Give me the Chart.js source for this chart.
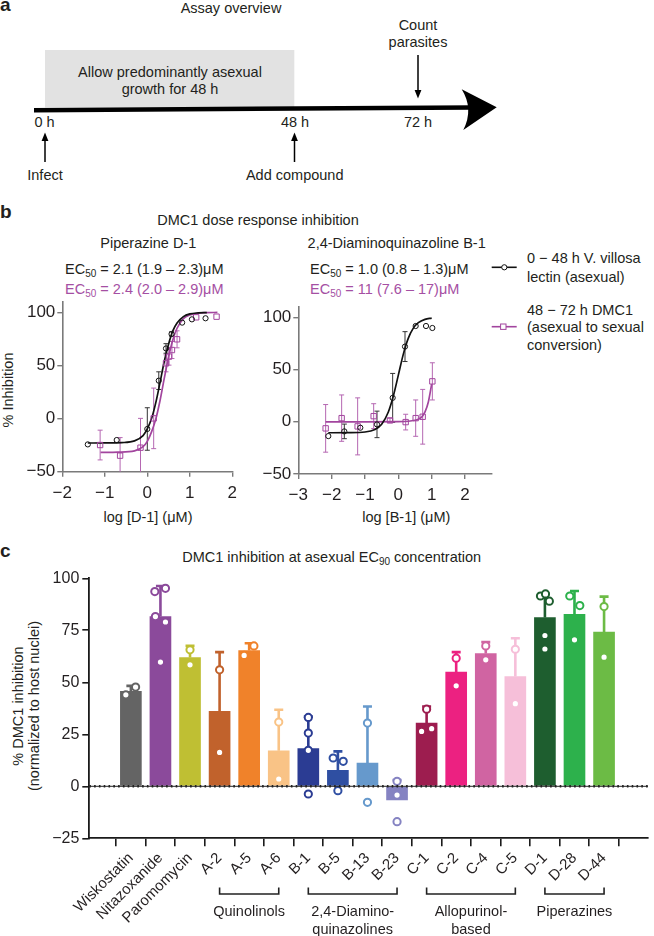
<!DOCTYPE html>
<html><head><meta charset="utf-8">
<script src="https://cdn.jsdelivr.net/npm/chart.js@4.4.1/dist/chart.umd.min.js"></script>
<style>
html,body{margin:0;padding:0;background:#fff}
body{position:relative;width:654px;height:936px;overflow:hidden;font-family:"Liberation Sans",Arial,Helvetica,sans-serif;color:#231f20}
.t{position:absolute;white-space:nowrap;line-height:1;font-size:14.5px}
.c{transform:translate(-50%,-50%)}
.l{transform:translate(0,-50%)}
.r90{transform:translate(-50%,-50%) rotate(-90deg)}
.lab{font-weight:bold;font-size:19px}
.mag{color:#a54fa3}
sub{font-size:10px;vertical-align:-3px;line-height:0}
canvas,svg{position:absolute}
</style></head><body>

<!-- Panel a : timeline diagram -->
<svg style="left:0;top:0" width="654" height="190">
  <rect x="45" y="50" width="249.3" height="57.5" fill="#e2e2e2"/>
  <line x1="34" y1="110.3" x2="472" y2="107.4" stroke="#000" stroke-width="4.5"/>
  <path d="M461.7 89.3 L496.7 107.3 L463.3 130 Q474 109 461.7 89.3 Z" fill="#000"/>
  <line x1="45" y1="162" x2="45" y2="139" stroke="#000" stroke-width="1.5"/>
  <path d="M45 132.5 L41.6 141 L48.4 141 Z" fill="#000"/>
  <line x1="294.5" y1="162" x2="294.5" y2="139" stroke="#000" stroke-width="1.5"/>
  <path d="M294.5 132.5 L291.1 141 L297.9 141 Z" fill="#000"/>
  <line x1="418" y1="55" x2="418" y2="92" stroke="#000" stroke-width="1.5"/>
  <path d="M418 98.5 L414.6 90 L421.4 90 Z" fill="#000"/>
</svg>
<div class="t lab l" style="left:0;top:4px">a</div>
<div class="t c" style="left:231px;top:8px">Assay overview</div>
<div class="t c" style="left:418px;top:25px">Count</div>
<div class="t c" style="left:418px;top:42px">parasites</div>
<div class="t c" style="left:170px;top:71.5px">Allow predominantly asexual</div>
<div class="t c" style="left:170px;top:89px">growth for 48 h</div>
<div class="t c" style="left:44.5px;top:122px">0 h</div>
<div class="t c" style="left:295px;top:122px">48 h</div>
<div class="t c" style="left:418px;top:122px">72 h</div>
<div class="t c" style="left:45px;top:175px">Infect</div>
<div class="t c" style="left:294.7px;top:175px">Add compound</div>

<!-- Panel b texts -->
<div class="t lab l" style="left:0;top:211px">b</div>
<div class="t c" style="left:258px;top:220px">DMC1 dose response inhibition</div>
<div class="t c" style="left:148.3px;top:242.5px">Piperazine D-1</div>
<div class="t c" style="left:396.7px;top:242.5px">2,4-Diaminoquinazoline B-1</div>
<div class="t l" style="left:65px;top:268.7px">EC<sub>50</sub> = 2.1 (1.9 – 2.3)μM</div>
<div class="t l mag" style="left:65px;top:288.7px">EC<sub>50</sub> = 2.4 (2.0 – 2.9)μM</div>
<div class="t l" style="left:310px;top:268.7px">EC<sub>50</sub> = 1.0 (0.8 – 1.3)μM</div>
<div class="t l mag" style="left:310px;top:288.7px">EC<sub>50</sub> = 11 (7.6 – 17)μM</div>
<div class="t r90" style="left:8.3px;top:390px">% Inhibition</div>
<div class="t c" style="left:148px;top:516.5px">log [D-1] (μM)</div>
<div class="t c" style="left:406.3px;top:516.5px">log [B-1] (μM)</div>

<svg style="left:488px;top:255px" width="34" height="80">
  <line x1="3.7" y1="12.3" x2="28.7" y2="12.3" stroke="#111" stroke-width="1.6"/>
  <circle cx="16.3" cy="12.3" r="2.6" fill="#fff" stroke="#111" stroke-width="1"/>
  <line x1="3.7" y1="71.7" x2="28.7" y2="71.7" stroke="#a2459e" stroke-width="1.6"/>
  <rect x="12.6" y="69" width="5.4" height="5.4" fill="#fff" stroke="#a2459e" stroke-width="1"/>
</svg>
<div class="t l" style="left:527px;top:258.3px">0 − 48 h V. villosa</div>
<div class="t l" style="left:527px;top:276.5px">lectin (asexual)</div>
<div class="t l" style="left:527px;top:309.5px">48 − 72 h DMC1</div>
<div class="t l" style="left:527px;top:327.3px">(asexual to sexual</div>
<div class="t l" style="left:527px;top:345.3px">conversion)</div>

<canvas id="cLeft" width="250" height="240" style="left:0;top:290px"></canvas>
<canvas id="cRight" width="250" height="240" style="left:250px;top:290px"></canvas>

<!-- Panel c texts -->
<div class="t lab l" style="left:0;top:550px">c</div>
<div class="t c" style="left:331.7px;top:556.7px">DMC1 inhibition at asexual EC<sub>90</sub> concentration</div>
<div class="t r90" style="left:18px;top:706px">% DMC1 inhibition</div>
<div class="t r90" style="left:34px;top:706px">(normalized to host nuclei)</div>
<canvas id="cBars" width="654" height="396" style="left:0;top:540px"></canvas>
<div id="groupText"></div>

<script>
// ---------------- Panel b data ----------------
// Piperazine D-1
const lvD1LogConc = [-1.40, -0.72, 0.00, 0.27, 0.44, 0.57, 0.82, 1.05, 1.37];
const lvD1Inhib   = [-24.3, -20.2, -9.8, 35.7, 66.0, 79.6, 90.3, 93.4, 94.4];
const lvD1Err     = [0, 0, 20, 8.3, 4.5, 2, 0, 0, 0];
const dmcD1LogConc = [-1.11, -0.64, -0.16, 0.15, 0.44, 0.51, 0.58, 0.70, 1.15, 1.63];
const dmcD1Inhib   = [-24.9, -34.9, -27.4, 0.2, 52.0, 58.3, 64.5, 74.6, 95.3, 95.9];
const dmcD1Err     = [14, 17, 27.6, 28.5, 8, 8, 8, 8, 0, 0];
const lvD1FitX = [-1.4, -1.0, -0.6, -0.3, -0.1, 0.0, 0.1, 0.2, 0.3, 0.4, 0.5, 0.6, 0.7, 0.85, 1.0, 1.2, 1.4];
const lvD1FitY = [-23, -22.9, -22.6, -21, -16, -9.8, 0, 15, 34, 54, 70, 82.5, 90, 96, 98.5, 99.5, 99.8];
const dmcD1FitX = [-1.1, -0.7, -0.3, -0.1, 0.0, 0.1, 0.2, 0.3, 0.4, 0.5, 0.6, 0.7, 0.85, 1.0, 1.2, 1.4, 1.65];
const dmcD1FitY = [-31.9, -31.6, -30.4, -26.5, -21.5, -12.5, -0.5, 17, 38, 58, 74, 85, 94, 97.5, 99.2, 99.7, 99.9];

// 2,4-Diaminoquinazoline B-1
const lvB1LogConc = [-2.10, -1.62, -1.14, -0.64, -0.17, 0.20, 0.52, 0.83, 1.02];
const lvB1Inhib   = [-13.7, -9.2, -5.7, -2.5, 22.9, 72.0, 91.7, 91.7, 89.8];
const lvB1Err     = [0, 7, 0, 12.7, 23.4, 14.3, 0, 0, 0];
const dmcB1LogConc = [-2.18, -1.70, -1.22, -0.74, -0.25, 0.22, 0.52, 0.73, 1.02];
const dmcB1Inhib   = [-6.3, 3.5, -4.4, 5.4, 1.3, -0.3, 3.5, 4.8, 38.7];
const dmcB1Err     = [22.8, 22.2, 27.3, 11.9, 2, 7.5, 17.4, 26.2, 17.8];
const lvB1FitX = [-2.1, -1.5, -1.0, -0.7, -0.5, -0.3, -0.15, 0, 0.15, 0.3, 0.45, 0.6, 0.8, 1.0];
const lvB1FitY = [-10.5, -10.4, -9.8, -7.4, -2.4, 9.4, 24.7, 44.7, 64.8, 80.1, 89.7, 94.9, 98.1, 99.3];
const dmcB1FitX = [-2.18, -1.0, 0.0, 0.3, 0.5, 0.6, 0.7, 0.8, 0.9, 1.0];
const dmcB1FitY = [0, 0, 0.1, 0.5, 1.5, 2.5, 4.5, 9.5, 19, 36];

const doseYTicks = [-50, 0, 50, 100];
const d1XTicks = [-2, -1, 0, 1, 2];
const b1XTicks = [-3, -2, -1, 0, 1, 2];

// ---------------- Panel c data ----------------
const compounds = ['Wiskostatin','Nitazoxanide','Paromomycin','A-2','A-5','A-6','B-1','B-5','B-13','B-23','C-1','C-2','C-4','C-5','D-1','D-28','D-44'];
const meanInhibition = [45.6, 81.6, 61.9, 36.0, 65.3, 17.1, 18.1, 7.7, 11.2, -6.5, 30.4, 54.9, 63.8, 52.8, 81.1, 82.7, 74.2];
const sdInhibition   = [2.7, 14.7, 5.6, 28.5, 3.5, 19.7, 15.4, 9.1, 27.2, 9.5, 8.0, 9.6, 5.5, 18.4, 11.4, 11.2, 17.0];
const replicateValues = [
  [44, 47.7], [93.6, 95.2, 81.6, 79, 59.7], [65.6, 58.4], [56, 16.3], [62.9, 67.5], [30.9, 3.5],
  [33.1, 25.6, 17.3, -3.7], [13.6, 12, -2.1], [30.4, -7.7], [2.4, -4.2, -17],
  [37.1, 26.4, 27.7], [61.6, 48.3], [67.5, 60.8], [65.9, 39.7],
  [91.5, 89, 92.5, 72.5, 66], [91.5, 86.9, 70.4], [86.4, 62.1]
];
const replicateJitter = [
  [-0.17, 0.16], [-0.19, 0.17, -0.17, 0.17, 0], [0, 0], [0, 0], [-0.17, 0.16], [0, 0],
  [0, 0, 0, 0], [-0.16, 0.18, 0], [0, 0], [0, 0, 0],
  [0, -0.17, 0.17], [0, 0], [0, 0], [0, 0],
  [-0.15, 0.15, 0.02, 0, 0], [-0.16, 0.18, 0], [0, 0]
];
const barColors = ['#646464','#8b4a9b','#bfbf33','#c1622c','#f0822a','#f9c386','#2b3c93','#2f4fa2','#6699cc','#8583c2','#9d1d4f','#ec2181','#d064a2','#f6bfd9','#1e5e2f','#2db14c','#6cbb45'];
const barYTicks = [-25, 0, 25, 50, 75, 100];
const groupNames = [['Quinolinols'], ['2,4-Diamino-', 'quinazolines'], ['Allopurinol-', 'based'], ['Piperazines']];
const groupStart = [3, 6, 10, 14];
const groupEnd   = [5, 9, 13, 16];

// ---------------- common ----------------
Chart.defaults.font.family = '"Liberation Sans", Arial, Helvetica, sans-serif';
Chart.defaults.color = '#231f20';
Chart.defaults.animation = false;
Chart.defaults.plugins.legend.display = false;
Chart.defaults.plugins.tooltip.enabled = false;

const fitY = w => s => { s.width = w; s.paddingTop = 0; s.paddingBottom = 0; };
const fitX = h => s => { s.height = h; s.paddingLeft = 0; s.paddingRight = 0; };
const pts = (xs, ys) => xs.map((x, i) => ({x: x, y: ys[i]}));

const BLACK = '#111111', MAG = '#a2459e', MAG_ERR = '#b567b2', AXIS = '#7a7a7a';

function errPlugin(sets) {
  return {
    id: 'errbars',
    beforeDatasetsDraw(chart) {
      const {ctx, chartArea: a, scales: {x, y}} = chart;
      ctx.save();
      ctx.beginPath(); ctx.rect(a.left, a.top, a.right - a.left, a.bottom - a.top); ctx.clip();
      ctx.lineWidth = 1;
      sets.forEach(set => {
        ctx.strokeStyle = set.color;
        set.xs.forEach((xv, i) => {
          const e = set.es[i]; if (!e) return;
          const px = x.getPixelForValue(xv);
          const t = y.getPixelForValue(set.ys[i] + e), b = y.getPixelForValue(set.ys[i] - e);
          ctx.beginPath();
          ctx.moveTo(px, t); ctx.lineTo(px, b);
          ctx.moveTo(px - 2.5, t); ctx.lineTo(px + 2.5, t);
          ctx.moveTo(px - 2.5, b); ctx.lineTo(px + 2.5, b);
          ctx.stroke();
        });
      });
      ctx.restore();
    }
  };
}

function doseChart(id, cfg) {
  return new Chart(document.getElementById(id), {
    type: 'scatter',
    data: {
      datasets: [
        {data: pts(cfg.lvX, cfg.lvY), pointStyle: 'circle', pointRadius: 2.6, pointBorderWidth: 1,
         pointBorderColor: BLACK, pointBackgroundColor: 'rgba(255,255,255,0)', showLine: false, order: 0},
        {data: pts(cfg.dmcX, cfg.dmcY), pointStyle: 'rect', pointRadius: 3.8, pointBorderWidth: 1,
         pointBorderColor: MAG, pointBackgroundColor: 'rgba(255,255,255,0)', showLine: false, order: 0},
        {type: 'line', data: pts(cfg.lvFX, cfg.lvFY), borderColor: BLACK, borderWidth: 1.7, pointRadius: 0,
         cubicInterpolationMode: 'monotone', fill: false, order: 1},
        {type: 'line', data: pts(cfg.dmcFX, cfg.dmcFY), borderColor: MAG, borderWidth: 1.7, pointRadius: 0,
         cubicInterpolationMode: 'monotone', fill: false, order: 1}
      ]
    },
    options: {
      responsive: false, devicePixelRatio: 1,
      layout: {padding: {left: 0, top: cfg.padTop, right: cfg.padRight, bottom: 0}},
      scales: {
        x: {type: 'linear', min: cfg.xMin, max: cfg.xMax,
            afterBuildTicks: s => { s.ticks = cfg.xTicks.map(v => ({value: v})); },
            ticks: {font: {size: 17}, color: '#231f20', padding: 6, callback: v => (v < 0 ? '\u2212' + (-v) : '' + v)},
            grid: {drawOnChartArea: false, tickLength: 5, color: AXIS, lineWidth: 1.4},
            border: {color: AXIS, width: 1.6},
            afterFit: fitX(cfg.xH)},
        y: {type: 'linear', min: -50, max: 110,
            afterBuildTicks: s => { s.ticks = doseYTicks.map(v => ({value: v})); },
            ticks: {font: {size: 17}, color: '#231f20', padding: 2, callback: v => (v < 0 ? '\u2212' + (-v) : '' + v)},
            grid: {drawOnChartArea: false, tickLength: 5, color: AXIS, lineWidth: 1.4},
            border: {color: AXIS, width: 1.6},
            afterFit: fitY(cfg.yW)}
      }
    },
    plugins: [errPlugin([
      {xs: cfg.lvX, ys: cfg.lvY, es: cfg.lvE, color: '#333'},
      {xs: cfg.dmcX, ys: cfg.dmcY, es: cfg.dmcE, color: MAG_ERR}
    ])]
  });
}

doseChart('cLeft', {
  lvX: lvD1LogConc, lvY: lvD1Inhib, lvE: lvD1Err,
  dmcX: dmcD1LogConc, dmcY: dmcD1Inhib, dmcE: dmcD1Err,
  lvFX: lvD1FitX, lvFY: lvD1FitY, dmcFX: dmcD1FitX, dmcFY: dmcD1FitY,
  xMin: -2, xMax: 2, xTicks: d1XTicks,
  padTop: 11.7, padRight: 17.7, yW: 62.3, xH: 58.3
});
doseChart('cRight', {
  lvX: lvB1LogConc, lvY: lvB1Inhib, lvE: lvB1Err,
  dmcX: dmcB1LogConc, dmcY: dmcB1Inhib, dmcE: dmcB1Err,
  lvFX: lvB1FitX, lvFY: lvB1FitY, dmcFX: dmcB1FitX, dmcFY: dmcB1FitY,
  xMin: -3, xMax: 2.8, xTicks: b1XTicks,
  padTop: 16.9, padRight: 8.3, yW: 48.3, xH: 56
});

// ---------------- Panel c chart ----------------
const scatterPts = [], scatterCols = [];
replicateValues.forEach((vals, i) => vals.forEach((v, k) => {
  scatterPts.push({x: i + replicateJitter[i][k], y: v});
  scatterCols.push(barColors[i]);
}));

const barPlugin = {
  id: 'barExtras',
  afterDatasetDraw(chart, args) {
    if (args.meta.type !== 'bar') return;
    const {ctx, scales: {x, y}} = chart;
    ctx.save();
    ctx.lineWidth = 2.6;
    meanInhibition.forEach((m, i) => {
      const px = x.getPixelForValue(i);
      const p0 = y.getPixelForValue(m), p1 = y.getPixelForValue(m + sdInhibition[i]);
      ctx.strokeStyle = barColors[i];
      ctx.beginPath();
      ctx.moveTo(px, p0); ctx.lineTo(px, p1);
      ctx.moveTo(px - 4.5, p1); ctx.lineTo(px + 4.5, p1);
      ctx.stroke();
    });
    ctx.restore();
  },
  afterDatasetsDraw(chart) {
    const {ctx, chartArea: a, scales: {y}} = chart;
    const py = y.getPixelForValue(0);
    ctx.save();
    ctx.strokeStyle = '#222'; ctx.lineWidth = 1;
    ctx.beginPath(); ctx.moveTo(a.left, py); ctx.lineTo(a.right, py); ctx.stroke();
    ctx.lineWidth = 2.4; ctx.setLineDash([1.6, 3.2]);
    ctx.beginPath(); ctx.moveTo(a.left, py); ctx.lineTo(a.right, py); ctx.stroke();
    ctx.restore();
  },
  afterDraw(chart) {
    const {ctx, scales: {x}} = chart;
    ctx.save();
    ctx.strokeStyle = '#222'; ctx.lineWidth = 1.6;
    groupStart.forEach((s, g) => {
      const x0 = x.getPixelForValue(s), x1 = x.getPixelForValue(groupEnd[g]);
      ctx.beginPath();
      ctx.moveTo(x0, 347.5); ctx.lineTo(x0, 354); ctx.lineTo(x1, 354); ctx.lineTo(x1, 347.5);
      ctx.stroke();
    });
    ctx.restore();
  }
};

const barChart = new Chart(document.getElementById('cBars'), {
  type: 'bar',
  data: {
    datasets: [
      {type: 'scatter', data: scatterPts, pointRadius: 3.6, pointBorderWidth: 2,
       pointBackgroundColor: '#ffffff', pointBorderColor: scatterCols, order: 0},
      {type: 'bar', data: meanInhibition.map((m, i) => ({x: i, y: m})),
       backgroundColor: barColors, borderWidth: 0, barThickness: 21, order: 1}
    ]
  },
  options: {
    responsive: false, devicePixelRatio: 1,
    layout: {padding: {left: 0, top: 38.3, right: 0, bottom: 0}},
    scales: {
      x: {type: 'linear', min: -0.85, max: 16.93,
          afterBuildTicks: s => { s.ticks = compounds.map((_, i) => ({value: i})); },
          ticks: {font: {size: 15}, color: '#231f20', minRotation: 45, maxRotation: 45, autoSkip: false, padding: 3,
                  callback: v => compounds[v]},
          grid: {drawOnChartArea: false, tickLength: 8, color: '#1a1a1a', lineWidth: 1.6},
          border: {color: '#1a1a1a', width: 1.8},
          afterFit: fitX(97.7)},
      y: {type: 'linear', min: -25, max: 100,
          afterBuildTicks: s => { s.ticks = barYTicks.map(v => ({value: v})); },
          ticks: {font: {size: 16}, color: '#231f20', padding: 3, callback: v => (v < 0 ? '\u2212' + (-v) : '' + v)},
          grid: {drawOnChartArea: false, tickLength: 7, color: '#1a1a1a', lineWidth: 1.6},
          border: {color: '#1a1a1a', width: 1.8},
          afterFit: fitY(89.3)}
    }
  },
  plugins: [barPlugin]
});

// group captions under the brackets, centred on the bracket positions from the x scale
const gt = document.getElementById('groupText');
groupNames.forEach((lines, g) => {
  const xs = barChart.scales.x;
  const cx = (xs.getPixelForValue(groupStart[g]) + xs.getPixelForValue(groupEnd[g])) / 2;
  lines.forEach((txt, k) => {
    const d = document.createElement('div');
    d.className = 't c';
    d.style.left = cx + 'px';
    d.style.top = (911 + 17.5 * k) + 'px';
    d.textContent = txt;
    gt.appendChild(d);
  });
});
</script>
</body></html>
